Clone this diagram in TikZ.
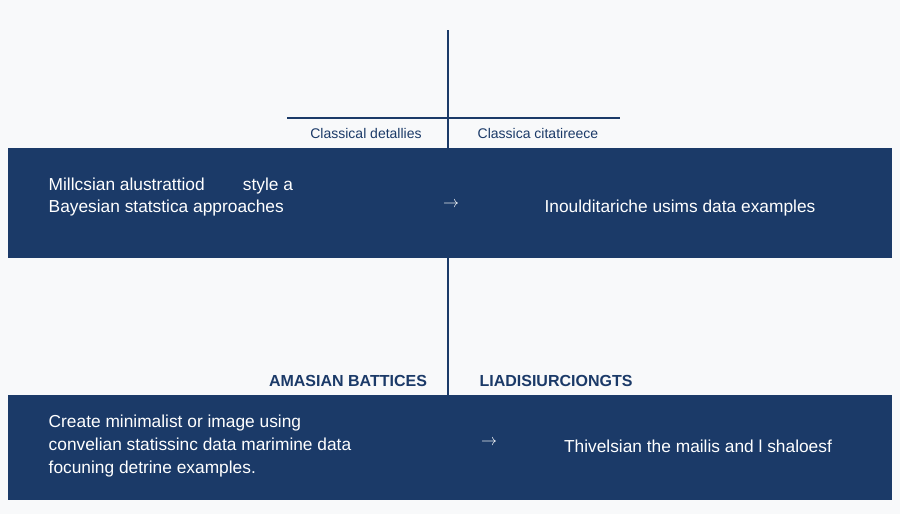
\documentclass[tikz,border=0pt]{standalone}
\usepackage{fontspec}
\setmainfont{Liberation Sans}
\usetikzlibrary{positioning}
\definecolor{navy}{HTML}{1B3A68}
\begin{document}
\begin{tikzpicture}[x=0.75pt,y=-0.75pt,
  band/.style={fill=navy, draw=none},
  rule/.style={navy, line width=1.6pt},
  lefttext/.style={white, anchor=west, align=left, font=\fontsize{13}{17}\selectfont},
  righttext/.style={white, font=\fontsize{13}{17}\selectfont},
  headlbl/.style={navy, font=\fontsize{10.5}{12}\selectfont},
  caplbl/.style={navy, font=\bfseries\fontsize{12}{14}\selectfont}]
  \useasboundingbox[fill=white!97!navy] (0,0) rectangle (900,514);
  % rules
  \coordinate (top) at (448,30);
  \coordinate (bandtop) at (448,148);
  \coordinate (hl) at (287,118);
  \coordinate (hr) at (620,118);
  \coordinate (mid) at (448,258);
  \coordinate (low) at (448,395);
  \draw [rule] (top) -- (bandtop);
  \draw [rule] (hl) -- (hr);
  \draw [rule] (mid) -- (low);
  \node (h1) at (366,133) [headlbl] {Classical detallies};
  \node (h2) at (538,133) [headlbl] {Classica citatireece};
  % upper band
  \fill [band] (8,148) rectangle (892,258);
  \node (t1) at (44,197) [lefttext] {Millcsian alustrattiod\hspace{2.2em}style a\\Bayesian statstica approaches};
  \node (a1) at (451,205) [righttext] {$\rightarrow$};
  \node (t2) at (680,208) [righttext] {Inoulditariche usims data examples};
  % lower labels
  \node (c1) at (348,381) [caplbl] {AMASIAN BATTICES};
  \node (c2) at (556,381) [caplbl] {LIADISIURCIONGTS};
  % lower band
  \fill [band] (8,395) rectangle (892,500);
  \node (t3) at (44,446) [lefttext] {Create minimalist or image using\\convelian statissinc data marimine data\\focuning detrine examples.};
  \node (a2) at (489,443) [righttext] {$\rightarrow$};
  \node (t4) at (698,446) [righttext] {Thivelsian the mailis and l shaloesf};
\end{tikzpicture}
\end{document}
